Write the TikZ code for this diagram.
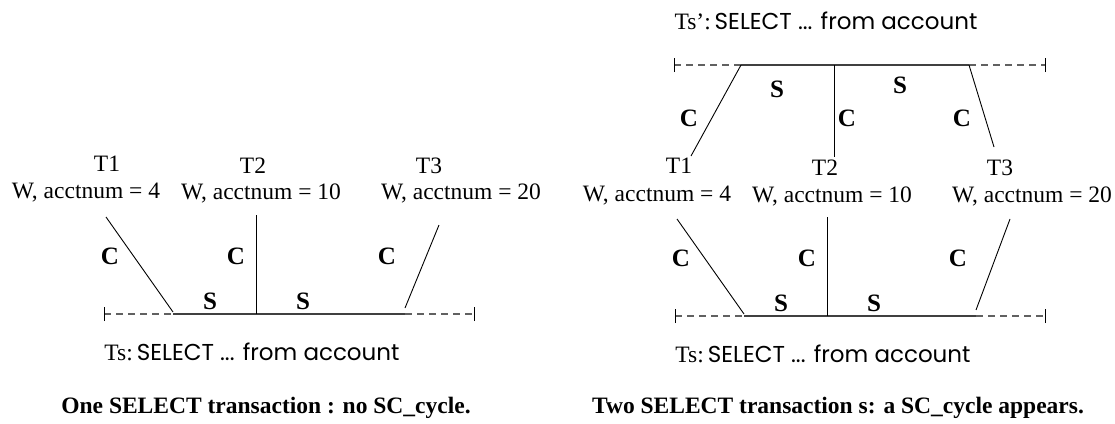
\documentclass[tikz,border=0pt]{standalone}
\usepackage{fontspec}
\setmainfont{Liberation Serif}
\newfontfamily\agfont{Poppins}
\begin{document}
\begin{tikzpicture}[x=1pt,y=-1pt,
  lbl/.style={font=\fontsize{23.5}{26}\selectfont, inner sep=0pt},
  edgelbl/.style={font=\fontsize{25}{27}\selectfont\bfseries, inner sep=0pt},
  captxt/.style={font=\fontsize{23.5}{26}\selectfont\bfseries, inner sep=0pt},
  seltxt/.style={font=\fontsize{23.5}{26}\selectfont, inner sep=0pt},
  conn/.style={line width=0.9pt, black},
  dashpart/.style={line width=1.1pt, black!62, dash pattern=on 7pt off 5pt},
  solidpart/.style={line width=1.2pt, black!75},
  tickmark/.style={line width=0.9pt, black}]
\useasboundingbox (0,0) rectangle (1115,423);
\newcommand{\selline}[1]{#1\,{\agfont\fontsize{23}{25}\selectfont SELECT ... from account}}

% ---------------- left diagram ----------------
\node[lbl] (lt1) at (107,164) {T1};
\node[lbl] (lt2) at (253,166) {T2};
\node[lbl] (lt3) at (429,166) {T3};
\node[lbl] (lw1) at (86,193) {W, acctnum = 4};
\node[lbl] (lw2) at (261,193) {W, acctnum = 10};
\node[lbl] (lw3) at (461,193) {W, acctnum = 20};
\coordinate (la1) at (106,217);
\coordinate (lb1) at (173,312);
\coordinate (la2) at (256,215);
\coordinate (lb2) at (256,314);
\coordinate (la3) at (439,225);
\coordinate (lb3) at (405,308);
\coordinate (ll0) at (104,314);
\coordinate (ls0) at (173,314);
\coordinate (ls1) at (405,314);
\coordinate (ll1) at (474,314);
\draw[dashpart] (ll0) -- (ls0);
\draw[dashpart] (ls1) -- (ll1);
\draw[solidpart] (ls0) -- (ls1);
\draw[tickmark] ([yshift=-7pt]ll0) -- ([yshift=7pt]ll0);
\draw[tickmark] ([yshift=-7pt]ll1) -- ([yshift=7pt]ll1);
\draw[conn] (la1) -- (lb1);
\draw[conn] (la2) -- (lb2);
\draw[conn] (la3) -- (lb3);
\node[edgelbl] (lc1) at (110,256) {C};
\node[edgelbl] (lc2) at (236,256) {C};
\node[edgelbl] (lc3) at (387,256) {C};
\node[edgelbl] (ls1l) at (210,301) {S};
\node[edgelbl] (ls2l) at (303,301) {S};
\node[seltxt] (lsel) at (252,352) {\selline{Ts:}};
\node[captxt] (lcap) at (266,408) {One SELECT transaction : no SC\_cycle.};

% ---------------- right diagram: top ----------------
\node[seltxt] (rtsel) at (826,21) {\selline{Ts':}};
\coordinate (rl0) at (674,65);
\coordinate (rs0) at (741,65);
\coordinate (rm) at (834,65);
\coordinate (rs1) at (969,65);
\coordinate (rl1) at (1045,65);
\draw[dashpart] (rl0) -- (rs0);
\draw[dashpart] (rs1) -- (rl1);
\draw[solidpart] (rs0) -- (rs1);
\draw[tickmark] ([yshift=-7pt]rl0) -- ([yshift=7pt]rl0);
\draw[tickmark] ([yshift=-7pt]rl1) -- ([yshift=7pt]rl1);
\coordinate (rta1) at (691,156);
\coordinate (rta2) at (834,157);
\coordinate (rta3) at (994,147);
\draw[conn] (rs0) -- (rta1);
\draw[conn] (rm) -- (rta2);
\draw[conn] (rs1) -- (rta3);
\node[edgelbl] (rts1) at (777,89) {S};
\node[edgelbl] (rts2) at (900,85) {S};
\node[edgelbl] (rtc1) at (689,118) {C};
\node[edgelbl] (rtc2) at (847,118) {C};
\node[edgelbl] (rtc3) at (962,118) {C};

% ---------------- right diagram: bottom ----------------
\node[lbl] (rt1) at (679,166) {T1};
\node[lbl] (rt2) at (825,168) {T2};
\node[lbl] (rt3) at (1000,168) {T3};
\node[lbl] (rw1) at (657,196) {W, acctnum = 4};
\node[lbl] (rw2) at (832,196) {W, acctnum = 10};
\node[lbl] (rw3) at (1032,196) {W, acctnum = 20};
\coordinate (ra1) at (677,219);
\coordinate (rb1) at (744,314);
\coordinate (ra2) at (827,217);
\coordinate (rb2) at (827,316);
\coordinate (ra3) at (1010,219);
\coordinate (rb3) at (976,310);
\coordinate (rbl0) at (675,316);
\coordinate (rbs0) at (744,316);
\coordinate (rbs1) at (976,316);
\coordinate (rbl1) at (1045,316);
\draw[dashpart] (rbl0) -- (rbs0);
\draw[dashpart] (rbs1) -- (rbl1);
\draw[solidpart] (rbs0) -- (rbs1);
\draw[tickmark] ([yshift=-7pt]rbl0) -- ([yshift=7pt]rbl0);
\draw[tickmark] ([yshift=-7pt]rbl1) -- ([yshift=7pt]rbl1);
\draw[conn] (ra1) -- (rb1);
\draw[conn] (ra2) -- (rb2);
\draw[conn] (ra3) -- (rb3);
\node[edgelbl] (rc1) at (681,258) {C};
\node[edgelbl] (rc2) at (807,258) {C};
\node[edgelbl] (rc3) at (958,258) {C};
\node[edgelbl] (rs1b) at (781,303) {S};
\node[edgelbl] (rs2b) at (874,303) {S};
\node[seltxt] (rsel) at (823,354) {\selline{Ts:}};
\node[captxt] (rcap) at (838,408) {Two SELECT transaction s: a SC\_cycle appears.};
\end{tikzpicture}
\end{document}
